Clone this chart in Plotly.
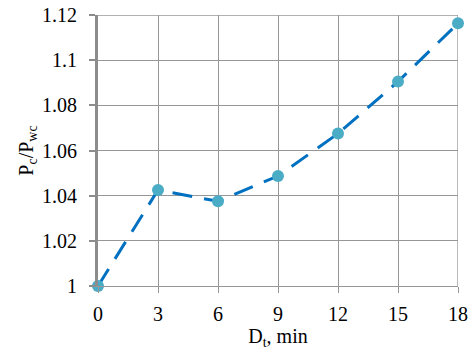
import plotly.graph_objects as go

x_vals = [0, 3, 6, 9, 12, 15, 18]
y_vals = [1.0, 1.0425, 1.0375, 1.0487, 1.0675, 1.0905, 1.1163]
x_ticks = [0, 3, 6, 9, 12, 15, 18]
y_ticks = [1.0, 1.02, 1.04, 1.06, 1.08, 1.1, 1.12]
y_tick_text = ["1", "1.02", "1.04", "1.06", "1.08", "1.1", "1.12"]

fig = go.Figure()
fig.add_trace(go.Scatter(
    x=x_vals, y=y_vals, mode="lines+markers",
    line=dict(color="#0070C0", width=3, dash="20px,12px"),
    marker=dict(color="#4BACC6", size=12),
    showlegend=False, cliponaxis=False,
))

font = dict(family="Times New Roman", size=20, color="black")
fig.update_layout(
    width=475, height=352,
    margin=dict(l=98, r=17, t=15, b=66, autoexpand=False),
    paper_bgcolor="white", plot_bgcolor="white",
    font=font,
    xaxis=dict(
        range=[0, 18], tickvals=x_ticks, showgrid=True, gridcolor="#979797", gridwidth=1.3,
        showline=True, linecolor="#979797", linewidth=1.3,
        ticks="outside", ticklen=6, tickcolor="#979797", tickwidth=1.3,
        zeroline=False, mirror=False, automargin=False, ticklabelstandoff=4,
        title=dict(text="D<sub>t</sub>, min", font=font, standoff=0),
        tickfont=font,
    ),
    yaxis=dict(
        range=[1.0, 1.12], tickvals=y_ticks, ticktext=y_tick_text,
        showgrid=True, gridcolor="#979797", gridwidth=1.3,
        showline=True, linecolor="#8C8C8C", linewidth=3,
        ticks="outside", ticklen=6, tickcolor="#8C8C8C", tickwidth=2,
        zeroline=False, automargin=False, ticklabelstandoff=8,
        title=dict(text="P<sub>c</sub>/P<sub>wc</sub>", font=font, standoff=4),
        tickfont=font,
    ),
)
fig.add_shape(type="line", xref="x", yref="y", x0=18, x1=18, y0=1.0, y1=1.12,
              line=dict(color="#979797", width=1.3), layer="below")
fig.add_shape(type="line", xref="x", yref="y", x0=0, x1=18, y0=1.12, y1=1.12,
              line=dict(color="#979797", width=1.3), layer="below")
fig.write_html("out.html")
